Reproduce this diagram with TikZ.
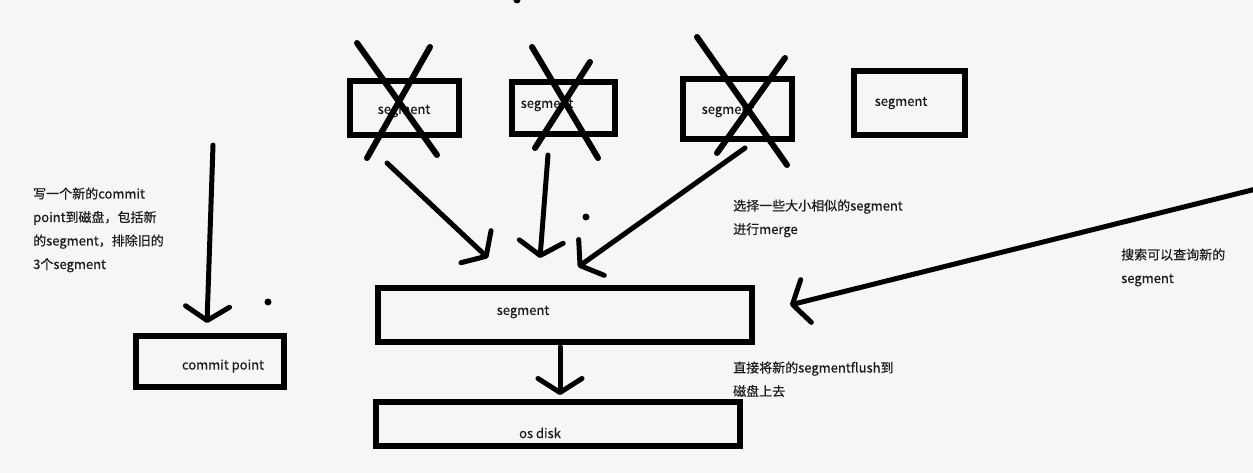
\documentclass[tikz,border=0pt]{standalone}
\usepackage{fontspec}
\setmainfont[FakeBold=0.5,AutoFakeBold=0.5]{Noto Sans CJK SC}
\usetikzlibrary{arrows.meta}
\definecolor{ink}{HTML}{1C1C1C}
\definecolor{paper}{HTML}{F6F6F6}
\begin{document}
\begin{tikzpicture}[x=1pt,y=-1pt,
  box/.style={draw=black, line width=6pt, inner sep=0pt},
  lab/.style={inner sep=0pt, text=ink, font=\fontsize{13}{15}\selectfont},
  txt/.style={inner sep=0pt, anchor=base west, align=left, text=ink, font=\fontsize{13}{23.5}\selectfont},
  conn/.style={line width=5pt, line cap=round, line join=round, -{Straight Barb[length=14pt,width=44pt,line cap=round,line join=round]}},
  xline/.style={line width=6pt, line cap=round},
  dotmark/.style={fill=black, draw=none}]
\useasboundingbox[fill=paper] (0,0) rectangle (1253,473);

% boxes
\node[box, minimum width=109pt, minimum height=54pt] (s1) at (404.5,108) {};
\node[box, minimum width=103pt, minimum height=52pt] (s2) at (563.5,108) {};
\node[box, minimum width=109pt, minimum height=60pt] (s3) at (737.5,109) {};
\node[box, minimum width=111pt, minimum height=64pt] (s4) at (909.5,103) {};
\node[box, minimum width=374pt, minimum height=54pt] (big) at (565,315) {};
\node[box, minimum width=364pt, minimum height=44pt] (disk) at (558,424) {};
\node[box, minimum width=148pt, minimum height=51pt] (cp) at (210,361.5) {};

% box labels
\node[lab] (s1t) at (404,111) {segment};
\node[lab] (s2t) at (547,105) {segment};
\node[lab] (s3t) at (728,111) {segment};
\node[lab] (s4t) at (901,103) {segment};
\node[lab] (bigt) at (523,312) {segment};
\node[lab] (diskt) at (540,433) {os disk};
\node[lab] (cpt) at (223,366) {commit point};

% crosses
\draw[xline] (357,43) -- (437,155);
\draw[xline] (430,47) -- (367,158);
\draw[xline] (532,47) -- (598,158);
\draw[xline] (590,62) -- (535,148);
\draw[xline] (697,37) -- (787,165);
\draw[xline] (785,58) -- (717,153);

% connector ends
\coordinate (a1s) at (387,163); \coordinate (a1e) at (488,258);
\coordinate (a2s) at (548,155); \coordinate (a2e) at (540,258);
\coordinate (a3s) at (745,148); \coordinate (a3e) at (578,267);
\coordinate (a4s) at (1256,189); \coordinate (a4e) at (790,305);
\coordinate (a5s) at (560,347); \coordinate (a5e) at (560,395);
\coordinate (a6s) at (213,145); \coordinate (a6e) at (207,323);

\draw[conn] (a1s) -- (a1e);
\draw[conn] (a2s) -- (a2e);
\draw[conn] (a3s) -- (a3e);
\draw[conn] (a4s) -- (a4e);
\draw[conn] (a5s) -- (a5e);
\draw[conn] (a6s) -- (a6e);

% dots
\fill[dotmark] (586,217) circle (3.5);
\fill[dotmark] (268,302) circle (3.5);
\fill[dotmark] (517,0) circle (3.5);

% annotations (base anchor = baseline of last line)
\node[txt] (t1) at (33,269) {写一个新的commit\\point到磁盘，包括新\\的segment，排除旧的\\3个segment};
\node[txt] (t2) at (733,234) {选择一些大小相似的segment\\进行merge};
\node[txt] (t3) at (1121,283) {搜索可以查询新的\\segment};
\node[txt] (t4) at (733,396) {直接将新的segmentflush到\\磁盘上去};
\end{tikzpicture}
\end{document}
